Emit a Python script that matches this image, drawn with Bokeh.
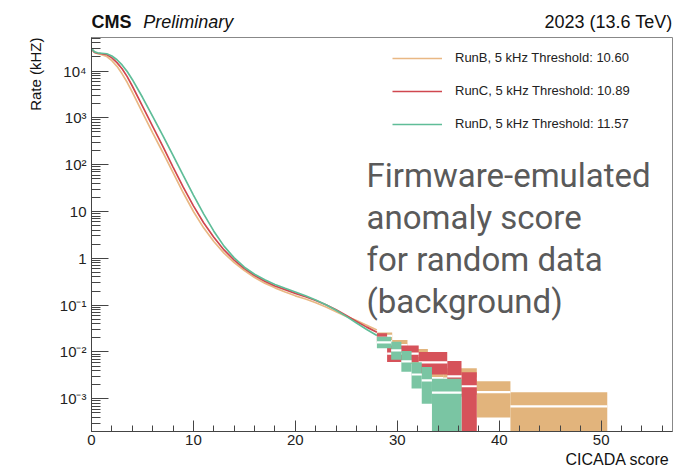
import math
from bokeh.plotting import figure
from bokeh.models import Label, Legend, LegendItem, FixedTicker, Range1d, ColumnDataSource, Title
from bokeh.layouts import column
from bokeh.embed import file_html
from bokeh.resources import INLINE

# ---------------- data ----------------
score = [0, 0.3, 0.6, 1, 1.5, 2, 2.5, 3, 3.5, 4, 5, 6, 7, 8, 9, 10, 11, 12, 13, 14,
         15, 16, 17, 18, 19, 20, 21, 22, 23, 24, 25, 26, 27, 28]

rate_runB = [29500, 25100, 23400, 22400, 20400, 16600, 12600, 8710, 5750, 3550,
             1290, 479, 182, 67.6, 25.1, 10.0, 4.47, 2.29, 1.29, 0.813,
             0.550, 0.389, 0.295, 0.234, 0.191, 0.158, 0.135, 0.112, 0.0912, 0.0724,
             0.0575, 0.0468, 0.0372, 0.0295]
rate_runC = [29500, 25100, 24000, 23400, 22400, 19100, 15100, 11200, 7590, 4790,
             1780, 661, 245, 89.1, 33.1, 13.2, 5.75, 2.82, 1.51, 0.912,
             0.603, 0.427, 0.324, 0.257, 0.214, 0.178, 0.151, 0.126, 0.102, 0.0794,
             0.0603, 0.0447, 0.0339, 0.0263]
rate_runD = [30200, 25700, 24500, 24000, 23400, 20900, 17400, 13500, 9770, 6610,
             2750, 1070, 417, 158, 58.9, 22.4, 8.91, 3.80, 1.82, 1.02,
             0.646, 0.457, 0.347, 0.275, 0.229, 0.191, 0.158, 0.129, 0.102, 0.0776,
             0.0575, 0.0417, 0.0302, 0.0224]

# tail bins (statistical error boxes)
runB_bin_lo = [28, 29.5, 31, 33, 34.5, 37.8, 41.1]
runB_bin_hi = [29.5, 31, 33, 34.5, 37.8, 41.1, 50.6]
runB_val = [0.022, 0.014, 0.0082, 0.005, 0.0027, 0.00138, 0.00069]
runB_err_lo = [0.018, 0.010, 0.0055, 0.0029, 0.0012, 0.0004, 0.0]
runB_err_hi = [0.026, 0.018, 0.0115, 0.0075, 0.0045, 0.00238, 0.00138]

runC_bin_lo = [28, 29, 32.1, 34.9, 36.3]
runC_bin_hi = [29, 32.1, 34.9, 36.3, 37.8]
runC_val = [0.02, 0.0092, 0.006, 0.003, 0.00185]
runC_err_lo = [0.016, 0.0061, 0.0033, 0.0011, 0.0]
runC_err_hi = [0.025, 0.0138, 0.010, 0.0064, 0.0037]

runD_bin_lo = [28, 29.4, 30.4, 31.4, 32.4, 33.4]
runD_bin_hi = [29.4, 30.4, 31.4, 32.4, 33.4, 36.3]
runD_val = [0.016, 0.0108, 0.0063, 0.0033, 0.00247, 0.00135]
runD_err_lo = [0.012, 0.0068, 0.0038, 0.00166, 0.00078, 0.0]
runD_err_hi = [0.021, 0.0165, 0.0105, 0.006, 0.00475, 0.00268]

legend_labels = ["RunB, 5 kHz Threshold: 10.60",
                 "RunC, 5 kHz Threshold: 10.89",
                 "RunD, 5 kHz Threshold: 11.57"]

x_ticks = [0, 10, 20, 30, 40, 50]
x_tick_labels = ["0", "10", "20", "30", "40", "50"]
y_ticks = [1e-3, 1e-2, 1e-1, 1, 10, 100, 1000, 10000]
y_tick_labels = ["10\u207b\u00b3", "10\u207b\u00b2", "10\u207b\u00b9", "1", "10",
                 "10\u00b2", "10\u00b3", "10\u2074"]

# ---------------- styling ----------------
FONT = "Liberation Sans"
W = 680
HEAD_H, MAIN_H, FOOT_H = 36, 416, 15
line_colors = ["#e9b884", "#d0474f", "#5fbd98"]
fill_colors = ["#e2b47c", "#d6525a", "#7ac5a3"]


def blank(h):
    f = figure(width=W, height=h, output_backend="svg", toolbar_location=None,
               title_location=None, x_axis_location=None, y_axis_location=None,
               x_range=Range1d(0, 1), y_range=Range1d(0, 1), min_border=0)
    f.grid.visible = False
    f.outline_line_color = None
    f.background_fill_color = "white"
    f.border_fill_color = "white"
    return f


def lab(fig, x, y, text, **kw):
    args = dict(x=x, y=y, x_units="screen", y_units="screen", text=text,
                text_font=FONT, text_color="#111111", text_baseline="alphabetic")
    args.update(kw)
    fig.add_layout(Label(**args))


# header (its frame is aligned with the main frame: left edge at page x=91)
head = blank(HEAD_H)
lab(head, 0, 15, "CMS", text_font_size="18px", text_font_style="bold")
lab(head, 51.7, 15, "Preliminary", text_font_size="18px", text_font_style="italic")
lab(head, 581, 15, "2023 (13.6 TeV)", text_font_size="18px", text_align="right")

# main plot
p = figure(width=W, height=MAIN_H, output_backend="svg", toolbar_location=None,
           title_location=None,
           x_range=Range1d(0, 57), y_range=Range1d(2e-4, 5.2e4), y_axis_type="log",
           min_border_left=91, min_border_right=8, min_border_top=1, min_border_bottom=21)
p.grid.visible = False
p.outline_line_color = "#888888"
p.outline_line_width = 1
p.background_fill_color = "white"
p.border_fill_color = "white"

xa = p.xaxis[0]
ya = p.yaxis[0]
xa.ticker = FixedTicker(ticks=x_ticks, minor_ticks=list(range(2, 57, 2)))
xa.major_label_overrides = {t: l for t, l in zip(x_ticks, x_tick_labels)}
y_minor = [m * 10.0 ** k for k in range(-4, 5) for m in range(2, 10)]
ya.ticker = FixedTicker(ticks=y_ticks, minor_ticks=y_minor)
ya.major_label_overrides = {t: l for t, l in zip(y_ticks, y_tick_labels)}

for ax in (xa, ya):
    ax.axis_line_color = "#444444"
    ax.major_tick_line_color = "#444444"
    ax.minor_tick_line_color = "#444444"
    ax.major_label_text_font = FONT
    ax.major_label_text_font_size = "15px"
    ax.major_label_text_color = "#222222"
    ax.major_tick_out = 0
    ax.minor_tick_out = 0
xa.major_tick_in = 11
xa.minor_tick_in = 6
xa.major_label_standoff = 3
ya.major_tick_in = 17
ya.minor_tick_in = 9
ya.major_label_standoff = 5

p.add_layout(Title(text="Rate (kHZ)", align="right", text_font=FONT,
                   text_font_size="15px", text_font_style="normal",
                   text_color="#111111", standoff=25), "left")

# error boxes (tail)
tails = [
    (runB_bin_lo, runB_bin_hi, runB_val, runB_err_lo, runB_err_hi),
    (runC_bin_lo, runC_bin_hi, runC_val, runC_err_lo, runC_err_hi),
    (runD_bin_lo, runD_bin_hi, runD_val, runD_err_lo, runD_err_hi),
]
for (lo, hi, val, elo, ehi), fc in zip(tails, fill_colors):
    src = ColumnDataSource(dict(left=lo, right=hi, val=val,
                                bottom=[max(v, 1e-9) for v in elo], top=ehi))
    p.quad(left="left", right="right", bottom="bottom", top="top", source=src,
           fill_color=fc, line_color=None)
    p.segment(x0="left", x1="right", y0="val", y1="val", source=src,
              line_color="white", line_width=2.2)

# curves
renderers = []
for rates, lc in zip([rate_runB, rate_runC, rate_runD], line_colors):
    renderers.append(p.line(score, rates, line_color=lc, line_width=1.7))

leg = Legend(items=[LegendItem(label=l, renderers=[r]) for l, r in zip(legend_labels, renderers)],
             location=(301, 297.5), padding=0, margin=0, spacing=13,
             glyph_width=50, glyph_height=20, label_height=20, label_standoff=13,
             border_line_alpha=0, background_fill_alpha=0,
             label_text_font=FONT, label_text_font_size="13px", label_text_color="#222222")
p.add_layout(leg)

big_lines = ["Firmware-emulated", "anomaly score", "for random data", "(background)"]
for i, t in enumerate(big_lines):
    lab(p, 275, 256 - 42 * i, t, text_font="Roboto", text_font_size="33px",
        text_color="#5a5a5a")

# footer (frame aligned with the main frame)
foot = blank(FOOT_H)
lab(foot, 578, 8, "CICADA score", text_font_size="16px", text_align="right")

layout = column(head, p, foot, spacing=0)
open("out.html", "w").write(file_html(layout, INLINE))
